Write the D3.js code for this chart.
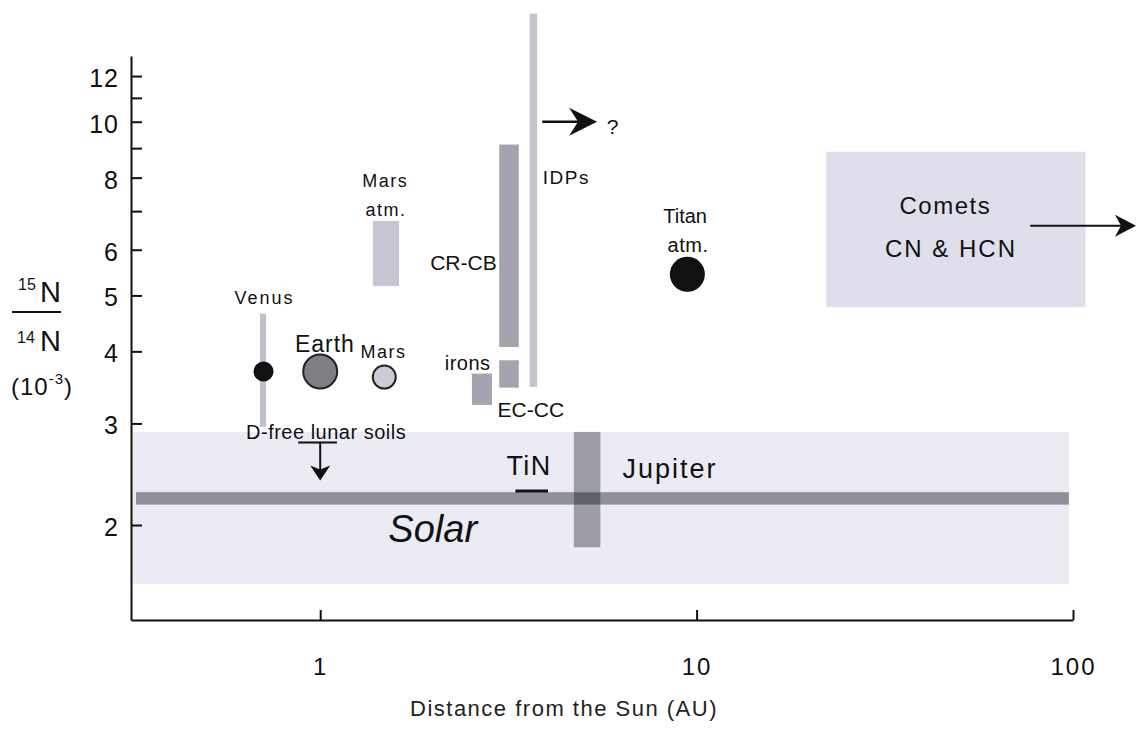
<!DOCTYPE html>
<html>
<head>
<meta charset="utf-8">
<script src="https://cdn.jsdelivr.net/npm/d3@7"></script>
<style>
  body { margin: 0; background: #fff; }
  svg { font-family: "Liberation Sans", Arial, sans-serif; }
</style>
</head>
<body>
<div id="chart"></div>
<script>
// axis ticks
const xTicks = [1, 10, 100];
const yTicks = [2, 3, 4, 5, 6, 7, 8, 9, 10, 11, 12];
const yTickLabels = [2, 3, 4, 5, 6, 8, 10, 12];

// shaded ranges: distance span (AU) and 15N/14N span (x 1e-3)
const rangeNames = ["Solar field", "Comets", "Mars atm.", "CR-CB", "EC-CC", "irons", "IDPs", "Venus", "Solar", "Jupiter"];
const rangeAU = [[0.3143, 97.5], [22.1, 108], [1.38, 1.62], [2.99, 3.37], [2.99, 3.37], [2.53, 2.86], [3.60, 3.77], [0.692, 0.718], [0.324, 97.5], [4.72, 5.55]];
const rangeRatio = [[1.58, 2.90], [4.77, 8.87], [5.19, 6.73], [4.07, 9.13], [3.46, 3.86], [3.23, 3.66], [3.47, 15.4], [2.96, 4.65], [2.17, 2.28], [1.83, 2.90]];

// single measurements
const pointNames = ["Venus", "Earth", "Mars", "Titan"];
const pointAU = [0.707, 1.0, 1.48, 9.45];
const pointRatio = [3.69, 3.69, 3.61, 5.44];

// TiN segment
const tinAU = [3.30, 4.03];
const tinRatio = 2.29;

// arrows (start / end as [AU, ratio])
const arrowNames = ["IDPs", "Comets", "lunar"];
const arrowStart = [[3.89, 10.0], [77, 6.6], [1.0, 2.78]];
const arrowEnd = [[5.44, 10.0], [147, 6.6], [1.0, 2.39]];
const lunarBarAU = [0.874, 1.108];
const lunarBarRatio = 2.78;

// annotations
const labelTexts = ["Venus", "Earth", "Mars", "Mars", "atm.", "CR-CB", "irons", "EC-CC", "IDPs", "?", "Titan", "atm.", "Comets", "CN & HCN", "D-free lunar soils", "TiN", "Jupiter", "Solar"];
const labelAU = [0.711, 1.029, 1.473, 1.488, 1.495, 2.402, 2.465, 3.627, 4.51, 5.98, 9.32, 9.49, 45.8, 47.4, 1.037, 3.59, 8.50, 1.99];
const labelRatio = [4.83, 3.99, 3.89, 7.71, 6.87, 5.53, 3.72, 3.08, 7.79, 9.54, 6.68, 5.94, 6.91, 5.83, 2.82, 2.44, 2.41, 1.87];

const width = 1138, height = 732;

const svg = d3.select("#chart")
  .append("svg")
    .attr("width", width)
    .attr("height", height);

// log scales for both axes
const x = d3.scaleLog().domain([0.3143, 100]).range([131, 1073]);
const y = d3.scaleLog().domain([1.369, 13]).range([620, 56]);

const rangeFill = {
  "Solar field": "#ebebf3",
  "Comets": "#dedfea",
  "Mars atm.": "#c6c7d3",
  "CR-CB": "#a3a4b0",
  "EC-CC": "#a3a4b0",
  "irons": "#a3a4b0",
  "IDPs": "#c3c4d0",
  "Venus": "#bfc0cc",
  "Solar": "#8f9099",
  "Jupiter": "#9b9ca6"
};

const ranges = rangeNames.map((name, i) => ({
  name: name, x0: rangeAU[i][0], x1: rangeAU[i][1], y0: rangeRatio[i][0], y1: rangeRatio[i][1]
}));

svg.append("g")
  .selectAll("rect")
  .data(ranges)
  .join("rect")
    .attr("x", d => x(d.x0))
    .attr("width", d => x(d.x1) - x(d.x0))
    .attr("y", d => y(d.y1))
    .attr("height", d => y(d.y0) - y(d.y1))
    .attr("fill", d => rangeFill[d.name]);

// where the solar line crosses the Jupiter bar it is darker
const sol = ranges.find(d => d.name === "Solar");
const jup = ranges.find(d => d.name === "Jupiter");
svg.append("rect")
  .attr("x", x(jup.x0))
  .attr("width", x(jup.x1) - x(jup.x0))
  .attr("y", y(sol.y1))
  .attr("height", y(sol.y0) - y(sol.y1))
  .attr("fill", "#60626b");

// TiN
svg.append("line")
  .attr("x1", x(tinAU[0])).attr("x2", x(tinAU[1]))
  .attr("y1", y(tinRatio)).attr("y2", y(tinRatio))
  .attr("stroke", "#111").attr("stroke-width", 3);

// lunar soils upper limit bar
svg.append("line")
  .attr("x1", x(lunarBarAU[0])).attr("x2", x(lunarBarAU[1]))
  .attr("y1", y(lunarBarRatio)).attr("y2", y(lunarBarRatio))
  .attr("stroke", "#111").attr("stroke-width", 2);

// arrows
const arrowStyle = {
  "IDPs": {w: 2.5, len: 28, half: 14, notch: 9},
  "Comets": {w: 2, len: 21, half: 11, notch: 6},
  "lunar": {w: 2, len: 15, half: 10, notch: 4}
};
arrowNames.forEach((name, i) => {
  const s = arrowStyle[name];
  const x1 = x(arrowStart[i][0]), y1 = y(arrowStart[i][1]);
  const x2 = x(arrowEnd[i][0]), y2 = y(arrowEnd[i][1]);
  const len = Math.hypot(x2 - x1, y2 - y1);
  const angle = Math.atan2(y2 - y1, x2 - x1) * 180 / Math.PI;
  svg.append("line")
    .attr("x1", x1).attr("y1", y1)
    .attr("x2", x2 - (x2 - x1) * 0.5 * s.len / len)
    .attr("y2", y2 - (y2 - y1) * 0.5 * s.len / len)
    .attr("stroke", "#111").attr("stroke-width", s.w);
  svg.append("path")
    .attr("d", `M0,0L${-s.len},${-s.half}L${-s.len + s.notch},0L${-s.len},${s.half}Z`)
    .attr("transform", `translate(${x2},${y2}) rotate(${angle})`)
    .attr("fill", "#111");
});

// planets / Titan
const pointStyle = {
  "Venus": {r: 10, fill: "#111", stroke: "none"},
  "Earth": {r: 17, fill: "#7e7e83", stroke: "#222"},
  "Mars": {r: 11.5, fill: "#cbccd6", stroke: "#222"},
  "Titan": {r: 17.5, fill: "#111", stroke: "none"}
};
svg.append("g")
  .selectAll("circle")
  .data(pointNames)
  .join("circle")
    .attr("cx", (d, i) => x(pointAU[i]))
    .attr("cy", (d, i) => y(pointRatio[i]))
    .attr("r", d => pointStyle[d].r)
    .attr("fill", d => pointStyle[d].fill)
    .attr("stroke", d => pointStyle[d].stroke)
    .attr("stroke-width", 2);

// labels
const labelSize = [18, 23, 18, 18, 18, 21, 20, 21, 19, 21, 20, 20, 24, 24, 20, 27, 27, 38];
const labelSpacing = [2, 1, 1.5, 1.5, 1.5, 0, 0.5, 0, 1.5, 0, 0, 0.5, 1.5, 2, 0.5, 1.5, 2, 0];
svg.append("g")
  .selectAll("text")
  .data(labelTexts)
  .join("text")
    .attr("x", (d, i) => x(labelAU[i]))
    .attr("y", (d, i) => y(labelRatio[i]))
    .attr("text-anchor", "middle")
    .attr("font-size", (d, i) => labelSize[i])
    .style("letter-spacing", (d, i) => labelSpacing[i] + "px")
    .style("font-style", d => d === "Solar" ? "italic" : "normal")
    .attr("fill", "#111")
    .text(d => d);

// Add the y-axis
const yAxis = svg.append("g")
  .attr("transform", `translate(${x.range()[0]},0)`)
  .call(d3.axisLeft(y)
    .tickValues(yTicks)
    .tickSize(-11)
    .tickSizeOuter(0)
    .tickPadding(12)
    .tickFormat(d => yTickLabels.includes(d) ? d : ""))
  .attr("font-family", null)
  .attr("font-size", 25);
yAxis.select(".domain").attr("stroke", "#111").attr("stroke-width", 2);
yAxis.selectAll(".tick line").attr("stroke", "#111").attr("stroke-width", 2);
yAxis.selectAll(".tick text").attr("fill", "#111").attr("dy", "0.42em").style("letter-spacing", "1px");

// Add the x-axis
const xAxis = svg.append("g")
  .attr("transform", `translate(0,${y.range()[0]})`)
  .call(d3.axisBottom(x)
    .tickValues(xTicks)
    .tickSize(-10)
    .tickSizeOuter(0)
    .tickPadding(38)
    .tickFormat(d3.format("d")))
  .attr("font-family", null)
  .attr("font-size", 24);
xAxis.select(".domain").attr("stroke", "#111").attr("stroke-width", 2);
xAxis.selectAll(".tick line").attr("stroke", "#111").attr("stroke-width", 2);
xAxis.selectAll(".tick text").attr("fill", "#111").style("letter-spacing", "2px");

// x-axis label
svg.append("text")
  .attr("x", 564)
  .attr("y", 716)
  .attr("text-anchor", "middle")
  .attr("font-size", 22)
  .style("letter-spacing", "1.5px")
  .attr("fill", "#222")
  .text("Distance from the Sun (AU)");

// y-axis label: 15N / 14N (10^-3)
const yl = svg.append("g").attr("fill", "#111");
yl.append("text").attr("x", 18).attr("y", 290).attr("font-size", 16).text("15");
yl.append("text").attr("x", 40).attr("y", 302).attr("font-size", 29).text("N");
yl.append("line")
  .attr("x1", 12).attr("x2", 61).attr("y1", 312).attr("y2", 312)
  .attr("stroke", "#111").attr("stroke-width", 2);
yl.append("text").attr("x", 17).attr("y", 343).attr("font-size", 16).text("14");
yl.append("text").attr("x", 40).attr("y", 351).attr("font-size", 29).text("N");
const unit = yl.append("text").attr("x", 11).attr("y", 395).attr("font-size", 24).style("letter-spacing", "1px");
unit.append("tspan").text("(10");
unit.append("tspan").attr("font-size", 15).attr("dy", -11).text("-3");
unit.append("tspan").attr("dy", 11).text(")");
</script>
</body>
</html>
